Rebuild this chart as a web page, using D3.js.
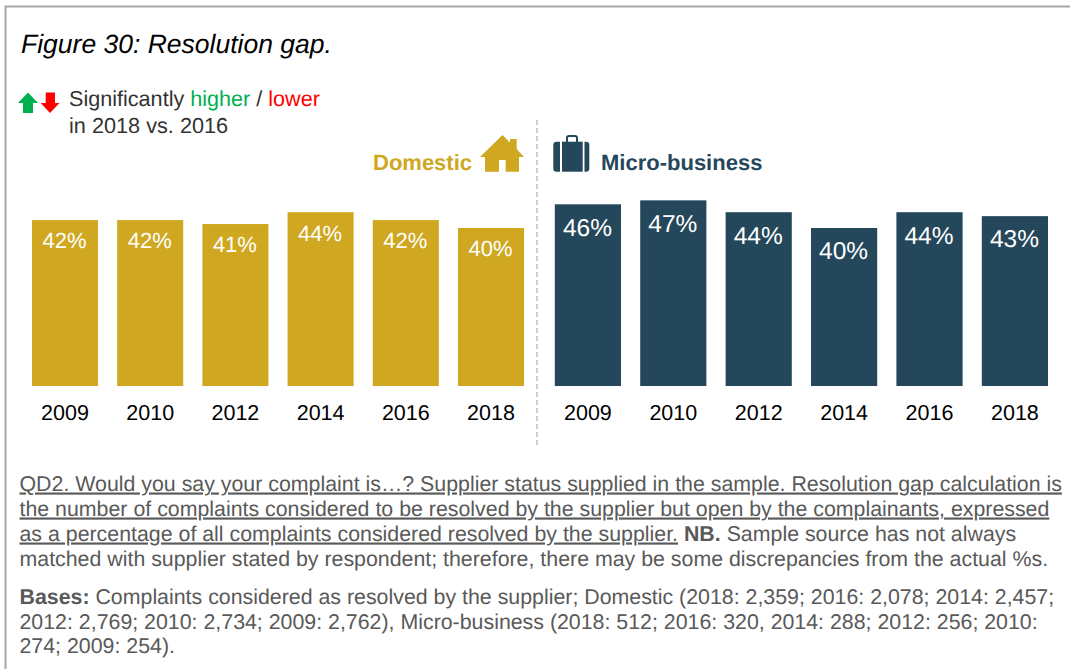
<!DOCTYPE html>
<html><head><meta charset="utf-8">
<script src="https://cdn.jsdelivr.net/npm/d3@7/dist/d3.min.js"></script>
<style>html,body{margin:0;padding:0;background:#fff}svg{display:block}text{font-family:"Liberation Sans",Arial,sans-serif;text-rendering:geometricPrecision}</style>
</head><body><svg id="c" width="1070" height="669"></svg>
<script>
const years = ["2009","2010","2012","2014","2016","2018"];
const domesticValues = [42,42,41,44,42,40];
const microValues = [46,47,44,40,44,43];
const titleText = "Figure 30: Resolution gap.";
const noteLines = [
 [{t:"QD2. Would you say your complaint is…? Supplier status supplied in the sample. Resolution gap calculation is",u:1}],
 [{t:"the number of complaints considered to be resolved by the supplier but open by the complainants, expressed",u:1}],
 [{t:"as a percentage of all complaints considered resolved by the supplier.",u:1},{t:" "},{t:"NB.",b:1},{t:" Sample source has not always"}],
 [{t:"matched with supplier stated by respondent; therefore, there may be some discrepancies from the actual %s."}]
];
const baseLines = [
 [{t:"Bases:",b:1},{t:" Complaints considered as resolved by the supplier; Domestic (2018: 2,359; 2016: 2,078; 2014: 2,457;"}],
 [{t:"2012: 2,769; 2010: 2,734; 2009: 2,762), Micro-business (2018: 512; 2016: 320, 2014: 288; 2012: 256; 2010:"}],
 [{t:"274; 2009: 254)."}]
];
const GOLD="#cfa720", NAVY="#24475b", GREY="#595959";
const svg=d3.select("#c");
svg.append("path").attr("d","M5.5,669V6.5H1070").attr("fill","none").attr("stroke","#a6a6a6").attr("stroke-width",2);
svg.append("text").attr("x",21).attr("y",53).attr("font-size",26.5).attr("font-style","italic").attr("fill","#000").text(titleText);
svg.append("path").attr("d","M18,103L28,92.5L38,103H33V113H23V103Z").attr("fill","#00b050");
svg.append("path").attr("d","M40.7,103H45.7V92.5H55V103H59.5L50,113Z").attr("fill","#ff0000");
const lg=svg.append("text").attr("x",69).attr("y",106).attr("font-size",21.6).attr("fill","#333");
lg.append("tspan").text("Significantly ");
lg.append("tspan").attr("fill","#00b050").text("higher");
lg.append("tspan").text(" / ");
lg.append("tspan").attr("fill","#ff0000").text("lower");
svg.append("text").attr("x",69).attr("y",133).attr("font-size",21.7).attr("fill","#333").text("in 2018 vs. 2016");
svg.append("line").attr("x1",537).attr("x2",537).attr("y1",120).attr("y2",448).attr("stroke","#bfbfbf").attr("stroke-width",1.5).attr("stroke-dasharray","5,3");
const y=d3.scaleLinear().domain([0,47]).range([386,200.35]);
function panel(vals,range,color,fs,dy){
  const x=d3.scaleBand().domain(years).range(range).paddingInner(0.225).paddingOuter(0.1125);
  const g=svg.append("g");
  g.selectAll("rect").data(vals).join("rect").attr("x",(d,i)=>x(years[i])).attr("width",x.bandwidth()).attr("y",d=>y(d)).attr("height",d=>y(0)-y(d)).attr("fill",color);
  g.selectAll("text.v").data(vals).join("text").attr("class","v").attr("x",(d,i)=>x(years[i])+x.bandwidth()/2-0.5).attr("y",d=>y(d)+dy).attr("text-anchor","middle").attr("font-size",fs).attr("fill","#fff").text(d=>d+"%");
  const ax=svg.append("g").attr("transform","translate(0,398)").call(d3.axisBottom(x).tickSize(0).tickPadding(0));
  ax.select(".domain").remove();
  ax.selectAll("text").attr("font-size",21.5).attr("fill","#000").attr("font-family","Liberation Sans").attr("dy",0).attr("y",22);
}
panel(domesticValues,[22.4,533.6],GOLD,22,28.3);
panel(microValues,[545.2,1057.6],NAVY,24.5,31.3);
svg.append("text").attr("x",373).attr("y",170).attr("font-size",22).attr("font-weight","bold").attr("fill",GOLD).text("Domestic");
svg.append("text").attr("x",601).attr("y",170).attr("font-size",22).attr("font-weight","bold").attr("fill",NAVY).text("Micro-business");
svg.append("path").attr("fill",GOLD).attr("fill-rule","evenodd").attr("d","M480,157L502.5,135L510,142.5V139H516.7V149L524,157H519V171.7H505.7V160H499V171.7H485V157Z");
const bc=svg.append("g").attr("fill",NAVY);
bc.append("path").attr("d","M560,141.7H556.5Q553.3,141.7 553.3,145V168.5Q553.3,171.7 556.5,171.7H560Z");
bc.append("path").attr("d","M562,141.7H582.7V171.7H562Z");
bc.append("path").attr("d","M584.5,141.7H586Q589.3,141.7 589.3,145V168.5Q589.3,171.7 586,171.7H584.5Z");
bc.append("path").attr("fill","none").attr("stroke",NAVY).attr("stroke-width",2).attr("d","M567,142V138Q567,136 569,136H575Q577,136 577,138V142");
function block(lines,y0,lh){
  lines.forEach((segs,i)=>{
    const t=svg.append("text").attr("x",19.5).attr("y",y0+i*lh).attr("font-size",21.35).attr("fill",GREY).style("white-space","pre");
    segs.forEach(s=>{const ts=t.append("tspan").text(s.t); if(s.u)ts.attr("text-decoration","underline"); if(s.b)ts.attr("font-weight","bold");});
  });
}
block(noteLines,490.5,25);
block(baseLines,604,24.7);
</script></body></html>
